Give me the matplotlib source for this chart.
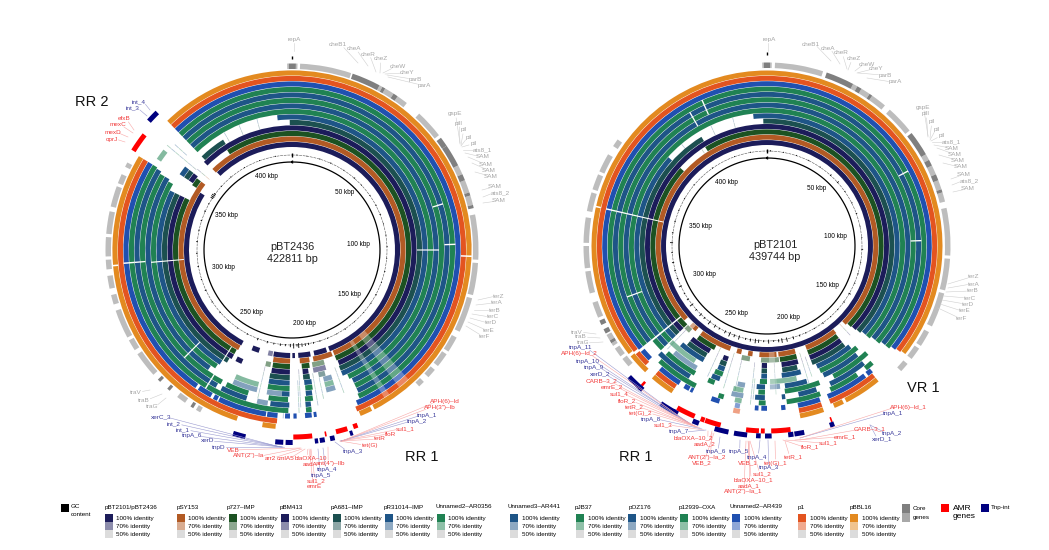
import numpy as np
import matplotlib
matplotlib.use('Agg')
import matplotlib.pyplot as plt
from matplotlib.patches import Rectangle

plt.rcParams['font.family'] = ['Liberation Sans', 'DejaVu Sans']

W, H = 1049, 550

# ring colours, inner to outer
ring_names = ['pBT2101/pBT2436', 'pSY153', 'p727–IMP', 'pBM413', 'pA681–IMP', 'pR31014–IMP',
              'Unnamed2–AR0356', 'Unnamed3–AR441', 'pJB37', 'pOZ176', 'p12939–OXA',
              'Unnamed2–AR439', 'p1', 'pBBL16']
ring_colors = ['#1c1c5a', '#b25a24', '#1c5222', '#1c1c5a', '#1c5050', '#1e5587', '#208253',
               '#1e5587', '#208253', '#1e5587', '#208253', '#2050b0', '#e35420', '#e38a20']
identity_levels = ['100% identity', '70% identity', '50% identity']

# blast hits per ring, degrees clockwise from repA
left_arcs = [
    [(316, 360), (0, 159.5), (208, 302), (198, 202), (181, 190), (178.4, 179.8), (170, 176.6), (161, 168)],
    [(315.5, 360), (0, 158), (208.3, 307), (181, 189.7), (171, 176), (159, 169)],
    [(327, 360), (0, 158), (209, 296), (303, 307), (181, 189.5), (171.4, 175.2)],
    [(315, 360), (0, 157.6), (209, 296), (304, 308), (204, 207), (181, 189.6), (172.3, 175)],
    [(316, 328), (359, 360), (0, 158), (210, 296), (304, 308), (181, 190), (172, 175)],
    [(353.7, 360), (0, 158), (212, 296), (304, 308), (181, 190), (171.5, 174.7)],
    [(316, 360), (0, 156), (213, 299), (181, 190), (171.5, 174.5)],
    [(316, 360), (0, 155), (215, 300), (181, 184), (172, 174.5)],
    [(316, 360), (0, 155), (208, 300), (197, 206), (181.5, 189), (172, 175)],
    [(316, 360), (0, 155), (209, 301), (197, 207), (181, 188), (173, 175)],
    [(316, 360), (0, 155.5), (181.3, 301.5), (173, 175)],
    [(316, 360), (0, 157), (215, 301.5), (209, 214), (206.5, 208), (189, 206), (185, 188.6),
     (180.7, 182.4), (178.4, 179.5), (173.2, 175.5), (171.5, 172.5)],
    [(316, 360), (0, 158), (185, 301.5)],
    [(316, 360), (0, 152.6), (153.5, 157.5), (185.3, 189.6), (198, 301.5)],
]
left_pale = [(0, 190.5, 193), (2, 190.5, 193), (2, 164, 170), (3, 164, 170), (4, 165, 168),
             (5, 162.6, 166.3), (6, 162.6, 166.3), (7, 162.6, 166.3), (6, 194, 204), (7, 194, 204),
             (10, 304, 308), (7, 184, 190), (9, 189, 193)]

right_arcs = [
    [(0, 360)],
    [(0, 135), (141.5, 159), (165, 174), (175, 184), (187.6, 190), (193.5, 196), (199.6, 217), (220, 222), (228, 360)],
    [(0, 134), (142, 159), (165, 173.5), (207, 217), (225.5, 230.3), (231, 312), (328, 360)],
    [(0, 133.5), (142, 159), (165, 173), (180, 182.5), (199, 201.5), (208.5, 219), (225.5, 230.3), (231, 360)],
    [(0, 133), (142, 159), (166, 173), (180, 182.5), (199, 202), (209, 219), (225.5, 230.3), (231, 329), (358.3, 360)],
    [(0, 132), (140.5, 157.5), (165, 173.5), (180, 182.5), (199, 202), (209, 221), (225.5, 230.3), (231, 312), (354, 360)],
    [(0, 132), (138.5, 157), (180, 183), (199, 202.6), (225.5, 230.3), (231, 360)],
    [(0, 131), (140.4, 156.4), (163.6, 172.7), (180.8, 184.2), (199.5, 203), (225.5, 230.3), (231, 360)],
    [(0, 131), (137, 153), (159, 173), (180.8, 183.4), (201, 203.7), (209.5, 223), (225.5, 230.3), (231, 360)],
    [(0, 130), (140.5, 155.4), (161, 168), (173.1, 174.4), (180.8, 184.5), (210.6, 225), (231, 360)],
    [(0, 130), (138, 141.2), (145, 156.2), (160.2, 172.8), (180.5, 183), (196, 198), (207, 223), (231, 360)],
    [(0, 129), (140, 142), (143, 158), (161, 169), (173.5, 175), (180, 182), (183, 184.3), (197, 200),
     (207, 208), (208.5, 210.5), (212.5, 221), (226, 230), (231, 360)],
    [(0, 128.5), (140.5, 158), (161, 169), (213, 221), (225.5, 230.5), (231.5, 360)],
    [(0, 128), (140.5, 153), (154, 157.3), (161, 169), (213, 221), (224, 231), (232, 360)],
]
right_pale = [(2, 174, 183), (2, 188.6, 192.8), (6, 167.4, 178.7), (7, 174.7, 178.8), (7, 189, 192),
              (8, 189.3, 193.3), (9, 189, 193.5), (10, 189.3, 191.8), (11, 189.6, 191.4), (12, 189.3, 191.6),
              (6, 212, 225), (7, 210, 221), (2, 222, 225), (1, 222, 224)]

# faint single hits in the gaps: degree, first ring, last ring
left_thin = [(330, 4, 5), (337, 4, 5), (345, 4, 5), (310, 4, 10), (312, 7, 9), (176.8, 3, 9), (177.5, 5, 10),
             (170.5, 4, 9), (193, 3, 8), (168, 5, 8), (160, 4, 8), (183, 9, 11), (310.5, 1, 3)]
right_thin = [(320, 4, 5), (326, 2, 3), (335, 4, 5), (345, 4, 5), (186, 3, 10), (185.2, 6, 9), (192.5, 3, 8),
              (197, 2, 8), (204.5, 2, 7), (176.5, 3, 8), (163, 2, 7), (161, 3, 6), (137, 1, 3), (224, 3, 7)]

# thin white breaks running across rings: degree, first ring, last ring
left_cuts = [(265, 1, 6), (265.5, 8, 9), (265.5, 10, 11), (265, 13, 13), (212, 2, 10), (88, 9, 10),
             (92, 12, 13), (90, 4, 7), (225, 5, 8), (73, 8, 9)]
right_cuts = [(283, 1, 7), (283, 8, 9), (283, 10, 11), (283, 13, 13), (88, 8, 9), (62, 9, 10), (330, 7, 9),
              (336, 8, 10), (250, 6, 8)]
left_wash = [(138, 142), (146, 148)]
right_wash = [(176, 179)]

# annotation ring (grey) and AMR / transposase marks
left_core = [(359, 360), (0, 1.2), (19, 28), (29, 30), (33, 34.5), (53, 56), (56, 63), (66, 68), (72, 73),
             (76, 77), (221, 222), (225, 226), (212, 213)]
left_light = [(358.5, 359), (1.2, 1.7), (2.5, 18.5), (28, 29), (30, 33), (34.5, 38), (43, 52), (63, 66), (68, 72),
              (73, 76), (79, 93), (94, 104), (105, 116), (118, 123), (124, 128.5), (130, 133), (135, 137),
              (209.5, 211), (215, 218), (228, 236), (237.5, 241), (242, 251), (253, 256), (258, 262),
              (264, 267), (268, 274), (275, 282), (283.5, 290), (291, 294), (296.5, 298)]
right_core = [(359, 360), (0, 1), (19, 28), (29.5, 31), (34, 35), (52, 60), (62, 64), (67, 69), (72, 73),
              (238, 239), (241.5, 243), (244.5, 246)]
right_light = [(358.5, 359), (1, 1.5), (2.5, 17.8), (28, 29.5), (31, 34), (35, 40), (42, 51), (60, 62), (64, 67), (69, 72),
               (73, 76), (78, 93), (94, 104), (105, 116), (118, 123), (124, 128), (130, 133), (229, 232),
               (233, 236), (237, 238), (239, 241), (247, 252), (255, 262), (263, 270), (271, 279), (281, 287),
               (288, 293), (294, 300), (303, 305.5)]

left_amr = [(302, 308), (173.8, 179.6), (169.4, 169.9), (162.8, 166.4), (159.5, 160.9)]
left_tnp = [(312, 315.6), (194, 197.8), (182.6, 185), (179.8, 181.9), (172.2, 173.2), (170.2, 171.7),
            (167.2, 168.6), (161.6, 162.5)]
right_amr = [(221.5, 222.3), (203, 209), (199.7, 201), (194.5, 199.5), (182.5, 186.5), (180.7, 181.9),
             (172.7, 178.7), (159.5, 160)]
right_tnp = [(221.5, 226.5), (220.8, 222), (209, 214), (208, 209.7), (201, 203), (191.7, 196), (186, 190),
             (181.9, 183.3), (178.6, 180.6), (172, 173.6), (168.7, 171.7), (159.3, 160.7)]

# GC content spikes: degree, half height
left_gc_deg = [3, 9, 17, 24, 33, 41, 47, 55, 62, 68, 74, 81, 88, 95, 103, 110, 118, 124, 131, 139, 146, 152, 158, 163,
               167, 170, 172, 174, 176, 177, 179, 181, 184, 187, 191, 195, 201, 208, 215, 222, 229, 237, 245, 252, 260,
               268, 275, 282, 288, 294, 299, 303, 304, 305, 306, 312, 320, 330, 340, 350]
left_gc_val = [.6, .5, .7, .8, .6, 1, .6, .7, .8, 1, .6, .7, .7, .6, .8, .6, 1, .7, .6, .7, 1, .6, .8, 1,
               1.2, 1.5, 1.8, 2.2, 3.2, 1.6, 3.5, 2.2, 1.4, 1.6, 1.2, 1.5, 1.6, 1, .8, .8, 1, .9, 1.2, .8, 1,
               1, 1.2, .9, 1, 1.2, .8, 2, 2.4, 2.6, 1.5, .8, .8, .7, .6, .6]
right_gc_deg = [2, 10, 18, 26, 34, 42, 48, 55, 63, 70, 78, 85, 92, 100, 107, 113, 120, 126, 132, 138, 144, 150, 156,
                160, 164, 168, 171, 173, 176, 179, 182, 185, 187, 190, 193, 197, 200, 203, 206, 210, 213, 217, 221,
                224, 228, 232, 236, 240, 245, 250, 255, 260, 266, 272, 278, 285, 292, 300, 310, 325, 340, 350]
right_gc_val = [1, .6, .7, .8, .6, 1.2, 1.5, .7, .8, 1, .6, .7, 1.2, .6, .8, .9, 1.6, 1, .8, .7, 1, .8, .8,
                1.2, 2, 2.8, 3, 2, 1.2, 2.6, 1.2, 2.2, 3, 2, 1.4, 2.8, 2, 3.2, 2, 1.4, 2.2, 3, 1.5,
                2.2, 1.4, 2.8, 1.6, 1, 2.2, 1, 1.2, 1.5, 1, 2, 1, 1, .8, .8, .7, .8, .6, .7]

left_total = 422811
right_total = 439744
kbp_ticks = [50, 100, 150, 200, 250, 300, 350, 400]
left_kbp_r = [78, 67, 73, 75, 75, 71, 74, 78]
right_kbp_r = [76, 69, 72, 75, 74, 69, 69, 75]

# gene labels: name, colour key
GREY, RED, NAVY = 'g', 'r', 'n'
top_names = ['cheB1', 'cheA', 'cheR', 'cheZ', 'cheW', 'cheY', 'parB', 'parA', 'gspE', 'pilI', 'pil', 'pil', 'pil',
             'ats8_1', 'SAM', 'SAM', 'SAM', 'SAM', 'SAM', 'ats8_2', 'SAM']
ter_names = ['terZ', 'terA', 'terB', 'terC', 'terD', 'terE', 'terF']
tra_names = ['traV', 'traB', 'traG']
left_rr2_names = ['int_4', 'int_3', 'efxB', 'mexC', 'mexD', 'oprJ']
left_rr2_kinds = [NAVY, NAVY, RED, RED, RED, RED]
left_rr1_names = ['xerC_3', 'int_2', 'int_1', 'tnpA_6', 'xerD', 'tnpD', 'VEB', 'ANT(2")–Ia', 'arr2', 'cmlA5', 'blaOXA–10',
                  'aadA', 'ant(4")–IIb', 'tnpA_4', 'tnpA_5', 'sul1_2', 'emrE', 'tnpA_3', 'tet(G)', 'tetR', 'floR',
                  'sul1_1', 'tnpA_2', 'tnpA_1', 'APH(3")–Ib', 'APH(6)–Id']
left_rr1_kinds = [NAVY] * 6 + [RED] * 7 + [NAVY] * 2 + [RED] * 2 + [NAVY] + [RED] * 4 + [NAVY] * 2 + [RED] * 2
right_rr1_names = ['tnpA_11', 'APH(6)–Id_2', 'tnpA_10', 'tnpA_9', 'xerD_2', 'CARB–3_2', 'emrE_2', 'sul1_4', 'floR_2',
                   'tetR_2', 'tet(G)_2', 'tnpA_8', 'sul1_3', 'tnpA_7', 'blaOXA–10_2', 'aadA_2', 'tnpA_6', 'tnpA_5',
                   'ANT(2")–Ia_2', 'VEB_2', 'tnpA_4', 'VEB_1', 'tet(G)_1', 'tetR_1', 'floR_1', 'sul1_1', 'emrE_1',
                   'CARB–3_1', 'tnpA_2', 'xerD_1', 'tnpA_1', 'APH(6)–Id_1', 'tnpA_3', 'sul1_2', 'blaOXA–10_1',
                   'aadA_1', 'ANT(2")–Ia_1']
right_rr1_kinds = [NAVY, RED, NAVY, NAVY, NAVY] + [RED] * 6 + [NAVY, RED, NAVY, RED, RED, NAVY, NAVY, RED, RED, NAVY,
                                                              RED, RED, RED, RED, RED, RED, RED, NAVY, NAVY, NAVY, RED,
                                                              NAVY, RED, RED, RED, RED]

# label layout in pixels: x, y, leader end x, leader end y
left_top_xy = [(338, 45, 358, 63), (354, 49, 368, 66), (368, 54, 376, 72), (381, 59, 380, 73), (398, 67, 383, 73),
               (407, 73, 385, 74), (415, 79, 387, 75), (424, 85, 388, 77), (455, 114, 460, 143), (459, 123, 460, 144),
               (464, 130, 461, 145), (469, 137, 461, 146), (474, 144, 462, 147), (482, 150, 463, 150), (483, 157, 465, 153),
               (486, 164, 468, 157), (489, 170, 472, 163), (491, 176, 475, 172), (495, 187, 482, 190), (500, 193, 483, 197),
               (499, 201, 483, 203)]
right_top_xy = [(811, 44, 831, 61), (828, 48, 840, 64), (841, 53, 847, 69), (854, 59, 848, 70), (867, 64, 855, 71),
                (876, 69, 857, 73), (885, 75, 858, 73), (895, 82, 867, 78), (923, 107, 928, 136), (926, 114, 928, 137),
                (932, 122, 930, 138), (937, 129, 930, 140), (942, 136, 931, 141), (951, 142, 932, 142), (952, 148, 934, 145),
                (955, 154, 937, 148), (958, 160, 939, 155), (961, 167, 943, 163), (964, 175, 951, 179), (969, 181, 952, 185),
                (968, 189, 953, 192)]
left_ter_xy = [(499, 296, 478, 300), (497, 303, 476, 305), (495, 310, 474, 310), (493, 317, 472, 314), (491, 323, 470, 318),
               (489, 330, 468, 322), (485, 336, 466, 326)]
right_ter_xy = [(974, 277, 948, 284), (974, 284, 948, 288), (973, 291, 946, 292), (970, 298, 944, 296), (968, 304, 942, 300),
                (965, 311, 940, 304), (962, 318, 938, 308)]
left_tra_xy = [(136, 392, 150, 390), (144, 400, 162, 394), (152, 407, 166, 398)]
right_tra_xy = [(577, 332, 596, 334), (581, 337, 600, 338), (583, 343, 603, 342)]
left_rr2_xy = [(139, 102, 150, 110), (133, 108, 147, 116), (124, 119, 134, 130), (118, 125, 133, 133), (113, 132, 128, 137),
               (112, 139, 125, 142)]
left_rr1_xy = [(161, 417, 280, 447), (174, 424, 281, 447), (183, 430, 282, 447), (192, 436, 282, 447), (208, 441, 283, 447),
               (219, 447, 284, 447), (233, 450, 300, 448), (249, 456, 301, 448), (270.5, 458, 302, 449), (286, 458, 305, 449),
               (311, 458, 307, 449), (310, 464, 310, 449), (331, 464, 328, 447), (327, 470, 323, 448), (321, 476, 318, 449),
               (316, 481, 311, 449), (314, 487, 309, 449), (353, 451, 335, 442), (370, 445, 340, 441), (380, 439, 340, 441),
               (391, 434, 341, 441), (405, 429, 341, 441), (417, 421, 341, 441), (427, 415, 341, 441), (440, 408, 342, 441),
               (445, 402, 342, 441)]
right_rr1_xy = [(581, 348, 688, 423), (579, 354, 689, 423), (588, 361, 690, 424), (594, 367, 691, 424), (600, 374, 692, 425),
                (602, 381, 693, 425), (612, 387, 694, 426), (619, 394, 695, 426), (627, 401, 696, 427), (634, 407, 698, 427),
                (641, 413, 700, 428), (651, 419, 702, 429), (663, 425, 704, 430), (679, 432, 706, 430), (693, 438, 708, 431),
                (705, 444, 712, 431), (716, 452, 720, 437), (739, 452, 740, 440), (707, 457, 712, 433), (702, 463, 714, 433),
                (757, 457, 760, 440), (748, 463, 748, 441), (776, 463, 775, 441), (793, 457, 785, 441), (810, 447, 783, 440),
                (828, 443, 786, 440), (845, 437, 795, 440), (870, 429, 800, 440), (892, 433, 870, 425), (882, 439, 870, 425),
                (893, 413, 800, 438), (908, 407, 800, 438), (769, 468, 768, 440), (762, 474, 750, 441), (753, 480, 748, 441),
                (749, 485.5, 749, 441), (743, 492, 746, 441)]

label_color = {GREY: '#a6a6a6', RED: '#f23c3c', NAVY: '#3c3c9c'}
leader_color = {GREY: '#cfcfcf', RED: '#f9a8a8', NAVY: '#9a9ad0'}

fig = plt.figure(figsize=(W / 100, H / 100), dpi=100, facecolor='white')
RMAX = 200


def add_plasmid(cx, cy, r0, pitch, total, arcs, pale, thin, cuts, wash, core, light, amr, tnp, gc_deg, gc_val, kbp_r,
                r_amr, r_tnp, r_gene):
    ax = fig.add_axes([(cx - RMAX) / W, 1 - (cy + RMAX) / H, 2 * RMAX / W, 2 * RMAX / H], projection='polar')
    ax.set_theta_zero_location('N')
    ax.set_theta_direction(-1)
    ax.set_ylim(0, RMAX)
    ax.set_axis_off()
    ax.patch.set_alpha(0)

    def arc(a, b, bottom, height, **kw):
        ax.bar(np.radians(a), height, width=np.radians(b - a), bottom=bottom, align='edge', linewidth=0, **kw)

    w = pitch - 0.4
    for deg, i, j in thin:
        for k in range(i, j + 1):
            arc(deg - 0.15, deg + 0.15, r0 + k * pitch, w, color=ring_colors[k], alpha=0.35)
    for i, blocks in enumerate(arcs):
        for a, b in blocks:
            arc(a, b, r0 + i * pitch, w, color=ring_colors[i])
    for i, a, b in pale:
        arc(a, b, r0 + i * pitch, w, color=ring_colors[i], alpha=0.55)
    for deg, i, j in cuts:
        arc(deg - 0.25, deg + 0.25, r0 + i * pitch, (j - i + 1) * pitch, color='white')
    for a, b in wash:
        arc(a, b, r0 + pitch, 12 * pitch, color='white', alpha=0.3)

    for a, b in light:
        arc(a, b, r_gene, 5.5, color='#bdbdbd')
    for a, b in core:
        arc(a, b, r_gene, 5.5, color='#7f7f7f')
    for a, b in amr:
        arc(a, b, r_amr - 2.5, 5, color='#ff0000')
    for a, b in tnp:
        arc(a, b, r_tnp - 2.5, 5, color='#00007f')

    # GC track and backbone circle
    theta = np.linspace(0, 2 * np.pi, 400)
    ax.plot(theta, np.full(400, 88.0), color='black', lw=0.9)
    ax.plot(theta, np.full(400, 95.0), color='#555555', lw=0.4, ls=(0, (5, 1.5)))
    t = np.radians(gc_deg)
    v = np.array(gc_val)
    ax.vlines(t, 95 - v * 0.5, 95 + v, color='black', lw=0.6)
    ax.vlines([0], [87], [90], color='black', lw=1)
    ax.vlines([0], [93], [97], color='black', lw=1)
    ax.vlines([0], [191], [194.5], color='black', lw=1)

    for k, r in zip(kbp_ticks, kbp_r):
        ax.text(2 * np.pi * k * 1000 / total, r, f'{k} kbp', fontsize=4.7, ha='center', va='center')
    return ax


add_plasmid(292, 250, 103, 5.5, left_total, left_arcs, left_pale, left_thin, left_cuts, left_wash, left_core, left_light,
            left_amr, left_tnp, left_gc_deg, left_gc_val, left_kbp_r, 187, 192.5, 181)
add_plasmid(767, 246, 101, 5.35, right_total, right_arcs, right_pale, right_thin, right_cuts, right_wash, right_core, right_light,
            right_amr, right_tnp, right_gc_deg, right_gc_val, right_kbp_r, 185, 190, 178)

# overlay in pixel coordinates for labels and legend
ov = fig.add_axes([0, 0, 1, 1])
ov.set_xlim(0, W)
ov.set_ylim(H, 0)
ov.set_axis_off()
ov.patch.set_alpha(0)


def gene_labels(names, kinds, layout):
    for name, kind, (x, y, ex, ey) in zip(names, kinds, layout):
        d = np.hypot(ex - x, ey - y)
        off = min(len(name) * 1.4 + 1, d)
        ux, uy = (ex - x) / max(d, 1), (ey - y) / max(d, 1)
        sx = x + ux * off
        sy = y + uy * min(off, 4)
        ov.plot([sx, ex], [sy, ey], color=leader_color[kind], lw=0.4)
        ov.text(x, y, name, color=label_color[kind], fontsize=4.6, ha='center', va='center')


gene_labels(top_names, [GREY] * 21, left_top_xy)
gene_labels(top_names, [GREY] * 21, right_top_xy)
gene_labels(ter_names, [GREY] * 7, left_ter_xy)
gene_labels(ter_names, [GREY] * 7, right_ter_xy)
gene_labels(tra_names, [GREY] * 3, left_tra_xy)
gene_labels(tra_names, [GREY] * 3, right_tra_xy)
gene_labels(left_rr2_names, left_rr2_kinds, left_rr2_xy)
gene_labels(left_rr1_names, left_rr1_kinds, left_rr1_xy)
gene_labels(right_rr1_names, right_rr1_kinds, right_rr1_xy)

ov.text(294, 39, 'repA', color=label_color[GREY], fontsize=4.6, ha='center', va='center')
ov.plot([294, 294], [43, 51], color=leader_color[GREY], lw=0.4)
ov.text(769, 39, 'repA', color=label_color[GREY], fontsize=4.6, ha='center', va='center')
ov.plot([768, 768], [43, 51], color=leader_color[GREY], lw=0.4)

for txt, x, y in [('RR 2', 92, 102), ('RR 1', 422, 457), ('RR 1', 636, 457), ('VR 1', 923, 388)]:
    ov.text(x, y, txt, fontsize=10.5, ha='center', va='center', color='#111111')
ov.text(292, 247.5, 'pBT2436', fontsize=7.8, ha='center', va='center', color='#222222')
ov.text(292, 259.5, '422811 bp', fontsize=7.8, ha='center', va='center', color='#222222')
ov.text(775, 245, 'pBT2101', fontsize=7.8, ha='center', va='center', color='#222222')
ov.text(775, 257, '439744 bp', fontsize=7.8, ha='center', va='center', color='#222222')

# legend
name_x = [105, 177, 227, 280, 331, 384, 435, 507, 575, 629, 679, 730, 798, 850]
swatch_x = [105, 177, 229, 281, 333, 385, 437, 510, 576, 628, 680, 732, 798, 850]
for name, nx, sx, col in zip(ring_names, name_x, swatch_x, ring_colors):
    ov.text(nx, 507, name, fontsize=4.5, ha='left', va='center')
    for j, (lab, alpha) in enumerate(zip(identity_levels, [1, 0.5, 1])):
        y0 = 514 + j * 8
        c = '#dcdcdc' if j == 2 else col
        ov.add_patch(Rectangle((sx, y0), 8, 8, facecolor=c, alpha=alpha, linewidth=0))
        ov.text(sx + 11.5, y0 + 4.5, lab, fontsize=4.5, ha='left', va='center')

ov.add_patch(Rectangle((61, 504), 8, 8, facecolor='black', linewidth=0))
ov.text(71, 506.5, 'GC', fontsize=4.5, va='center')
ov.text(71, 514, 'content', fontsize=4.5, va='center')
ov.add_patch(Rectangle((902, 504), 8, 8.5, facecolor='#7f7f7f', linewidth=0))
ov.add_patch(Rectangle((902, 513), 8, 8.5, facecolor='#a8a8a8', linewidth=0))
ov.text(913, 508, 'Core', fontsize=4.5, va='center')
ov.text(913, 517, 'genes', fontsize=4.5, va='center')
ov.add_patch(Rectangle((941, 504), 8, 8, facecolor='#ff0000', linewidth=0))
ov.text(953, 508, 'AMR', fontsize=6, va='center')
ov.text(953, 517, 'genes', fontsize=6, va='center')
ov.add_patch(Rectangle((981, 504), 8, 8, facecolor='#00007f', linewidth=0))
ov.text(991, 508, 'Tnp-int', fontsize=4.5, va='center')

fig.savefig('out.png', dpi=100, facecolor='white')
